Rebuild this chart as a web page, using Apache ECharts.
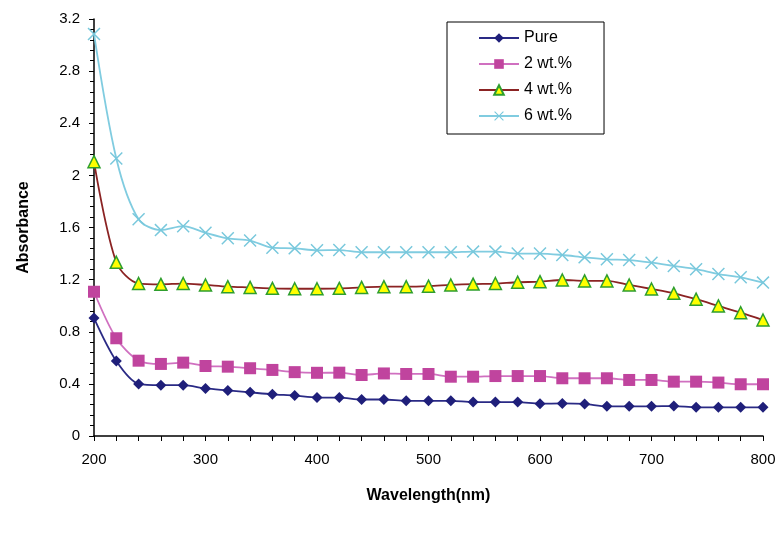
<!DOCTYPE html>
<html>
<head>
<meta charset="utf-8">
<script src="https://cdn.jsdelivr.net/npm/echarts@6/dist/echarts.min.js"></script>
<style>
  html, body { margin: 0; padding: 0; background: #fff; }
  #chart { width: 781px; height: 538px; }
</style>
</head>
<body>
<div id="chart"></div>
<script>
var wavelength = [200, 220, 240, 260, 280, 300, 320, 340, 360, 380, 400, 420, 440, 460, 480, 500,
  520, 540, 560, 580, 600, 620, 640, 660, 680, 700, 720, 740, 760, 780, 800];

var pure = [0.905, 0.575, 0.40, 0.39, 0.39, 0.365, 0.35, 0.335, 0.32, 0.31, 0.295, 0.295, 0.28, 0.28, 0.27, 0.27,
  0.27, 0.26, 0.26, 0.26, 0.248, 0.25, 0.246, 0.228, 0.228, 0.228, 0.23, 0.22, 0.22, 0.22, 0.22];
var wt2 = [1.107, 0.75, 0.578, 0.553, 0.563, 0.537, 0.532, 0.52, 0.507, 0.49, 0.485, 0.486, 0.468, 0.48, 0.476, 0.476,
  0.455, 0.455, 0.46, 0.46, 0.46, 0.443, 0.443, 0.443, 0.43, 0.43, 0.417, 0.417, 0.41, 0.397, 0.397];
var wt4 = [2.105, 1.333, 1.17, 1.164, 1.17, 1.159, 1.146, 1.14, 1.133, 1.13, 1.13, 1.133, 1.14, 1.146, 1.146, 1.15,
  1.159, 1.166, 1.17, 1.18, 1.184, 1.197, 1.19, 1.19, 1.159, 1.128, 1.095, 1.05, 0.998, 0.946, 0.89];
var wt6 = [3.085, 2.13, 1.663, 1.58, 1.61, 1.56, 1.517, 1.50, 1.445, 1.44, 1.425, 1.427, 1.41, 1.41, 1.41, 1.41,
  1.41, 1.415, 1.415, 1.40, 1.40, 1.389, 1.371, 1.356, 1.35, 1.33, 1.305, 1.28, 1.243, 1.218, 1.177];

var names = ['Pure', '2 wt.%', '4 wt.%', '6 wt.%'];

function pairs(vals) {
  var out = [];
  for (var i = 0; i < wavelength.length; i++) out.push([wavelength[i], vals[i]]);
  return out;
}

var font = 'Liberation Sans, Arial, sans-serif';
// thin "x" marker, like the spreadsheet one
var crossPath = 'path://M0,0.8 L0.8,0 L5,4.2 L9.2,0 L10,0.8 L5.8,5 L10,9.2 L9.2,10 L5,5.8 L0.8,10 L0,9.2 L4.2,5 Z';

var chart = echarts.init(document.getElementById('chart'));
var option = {
  animation: false,
  backgroundColor: '#fff',
  grid: { left: 94, right: 18, top: 19, bottom: 102, containLabel: false },
  legend: {
    orient: 'vertical',
    left: 447,
    top: 22,
    padding: [8, 32, 10, 31],
    itemWidth: 40,
    itemHeight: 12,
    itemGap: 10,
    borderColor: '#000',
    borderWidth: 1,
    textStyle: { fontFamily: font, fontSize: 16, color: '#000' },
    data: names
  },
  xAxis: {
    type: 'value',
    min: 200,
    max: 800,
    interval: 100,
    name: 'Wavelength(nm)',
    nameLocation: 'middle',
    nameGap: 52,
    nameTextStyle: { fontFamily: font, fontSize: 16, fontWeight: 'bold', color: '#000' },
    axisLine: { lineStyle: { color: '#000', width: 1.5 } },
    axisTick: { show: true, inside: false, length: 5, lineStyle: { color: '#000' } },
    minorTick: { show: true, splitNumber: 5, length: 5, lineStyle: { color: '#000' } },
    splitLine: { show: false },
    axisLabel: { fontFamily: font, fontSize: 15, color: '#000', margin: 16 }
  },
  yAxis: {
    type: 'value',
    min: 0,
    max: 3.2,
    interval: 0.4,
    name: 'Absorbance',
    nameLocation: 'middle',
    nameGap: 62,
    nameTextStyle: { fontFamily: font, fontSize: 16, fontWeight: 'bold', color: '#000' },
    axisLine: { show: true, lineStyle: { color: '#000', width: 1.5 } },
    axisTick: { show: true, inside: false, length: 5, lineStyle: { color: '#000' } },
    minorTick: { show: true, splitNumber: 5, length: 4, lineStyle: { color: '#000' } },
    splitLine: { show: false },
    axisLabel: { fontFamily: font, fontSize: 15, color: '#000', margin: 14 }
  },
  series: [
    {
      name: names[0], type: 'line', smooth: 0.3, data: pairs(pure),
      symbol: 'diamond', symbolSize: 11,
      lineStyle: { color: '#2a2a85', width: 1.8 },
      itemStyle: { color: '#1f1f7a' }
    },
    {
      name: names[1], type: 'line', smooth: 0.3, data: pairs(wt2),
      symbol: 'rect', symbolSize: 12,
      lineStyle: { color: '#d070c0', width: 1.8 },
      itemStyle: { color: '#c0449e' }
    },
    {
      name: names[2], type: 'line', smooth: 0.3, data: pairs(wt4),
      symbol: 'triangle', symbolSize: 12,
      lineStyle: { color: '#8b2323', width: 1.8 },
      itemStyle: { color: '#ffff00', borderColor: '#2e9e2e', borderWidth: 1.5 }
    },
    {
      name: names[3], type: 'line', smooth: 0.3, data: pairs(wt6),
      symbol: crossPath, symbolSize: 13,
      lineStyle: { color: '#80cce0', width: 1.8 },
      itemStyle: { color: '#78c8dc' }
    }
  ]
};
chart.setOption(option);
</script>
</body>
</html>
